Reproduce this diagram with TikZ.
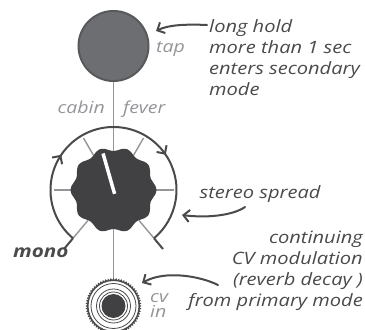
\documentclass[tikz,border=0pt]{standalone}
\usepackage{fontspec}
\setmainfont{Open Sans}[FakeStretch=1.18]
\usetikzlibrary{arrows.meta,decorations.markings}
\definecolor{ink}{HTML}{4A4A4C}
\definecolor{tapgray}{HTML}{6D6E71}
\definecolor{tapedge}{HTML}{58595B}
\definecolor{knobgray}{HTML}{414042}
\definecolor{tickgray}{HTML}{939598}

\begin{document}
\begin{tikzpicture}[x=1pt, y=1pt, >={Straight Barb[length=6pt,width=12pt]},
  notetext/.style={text=ink, font=\fontsize{17}{21.2}\selectfont\itshape, inner sep=0pt},
  graytext/.style={text=tickgray, font=\fontsize{16.5}{15}\selectfont\itshape, inner sep=0pt},
  callout/.style={->, ink, line width=2pt, line cap=round},
  dialtick/.style={tickgray, line width=1.4pt}]
  \useasboundingbox (0,0) rectangle (365,330);
  \coordinate (tap) at (113.5,284);
  \coordinate (knob) at (113.5,140);
  \coordinate (jack) at (113.5,24);

  % stem and tap button
  \draw[tickgray, line width=1.5pt] (tap) -- (jack);
  \draw[tapedge, fill=tapgray, line width=2pt] (tap) circle (35);

  % dial ticks and travel arc
  \foreach \a in {0,60,120,180}
    \draw[dialtick] (knob) ++(\a:40) -- ++(\a:20);
  \foreach \a in {230,310} {
    \draw[dialtick] (knob) ++(\a:40) -- ++(\a:23);
    \draw[ink, line width=2pt] (knob) ++(\a:63) -- ++(\a:14);
  }
  \draw[ink, line width=2pt, postaction={decorate},
    decoration={markings, mark=at position 0.3 with {\arrow{>}},
      mark=at position 0.7 with {\arrow{>}}}]
    (knob) ++(230:63) arc[start angle=230, end angle=-50, radius=63];

  % knob
  \fill[knobgray, shift={(knob)}] plot[smooth cycle, domain=0:354, samples=60, variable=\t]
    (\t:{41+2*cos(10*\t)});
  \draw[white, line width=3.5pt, shift={(knob)}] (-74:4) -- (106:38);

  % jack
  \fill[white] (jack) circle (25);
  \fill[ink, even odd rule, shift={(jack)}] plot[domain=0:256, samples=257, variable=\t]
    ({\t*1.40625}:{27+cos(mod(\t,4)*90)}) -- cycle (0,0) circle (25);
  \draw[ink, line width=0.8pt] (jack) circle (22.5) (jack) circle (17) (jack) circle (14);
  \fill[knobgray] (jack) circle (12);

  % labels
  \node[graytext, anchor=base west] (taplabel) at (156,277) {tap};
  \node[graytext, anchor=base east] (cabin) at (105,216) {cabin};
  \node[graytext, anchor=base west] (fever) at (123,216) {fever};
  \node[graytext, anchor=north west, align=left] (cvlabel) at (150,37) {cv\\in};
  \node[notetext, font=\fontsize{17.5}{20}\selectfont\bfseries\itshape, anchor=base west] (mono) at (13,72) {mono};

  \node[notetext, anchor=north west, align=left] (hold) at (209,311)
    {long hold\\more than 1 sec\\enters secondary\\mode};
  \node[notetext, anchor=base west] (spread) at (199.5,131) {stereo spread};
  \node[notetext, anchor=north east, align=right] (cv) at (363,99.5)
    {continuing\\CV modulation\\(reverb decay )\\from primary mode};

  % callout arrows
  \coordinate (holdtail) at (207,305);
  \coordinate (taptip) at (156,299);
  \coordinate (spreadtail) at (245,123);
  \coordinate (spreadtip) at (182,115);
  \coordinate (cvtail) at (218,45);
  \coordinate (cvtip) at (142,47);
  \draw[callout] (holdtail) .. controls (185,306) and (168,305) .. (taptip);
  \draw[callout] (spreadtail) .. controls (232,114) and (205,112) .. (spreadtip);
  \draw[callout] (cvtail) .. controls (200,54) and (165,60) .. (cvtip);
\end{tikzpicture}
\end{document}
